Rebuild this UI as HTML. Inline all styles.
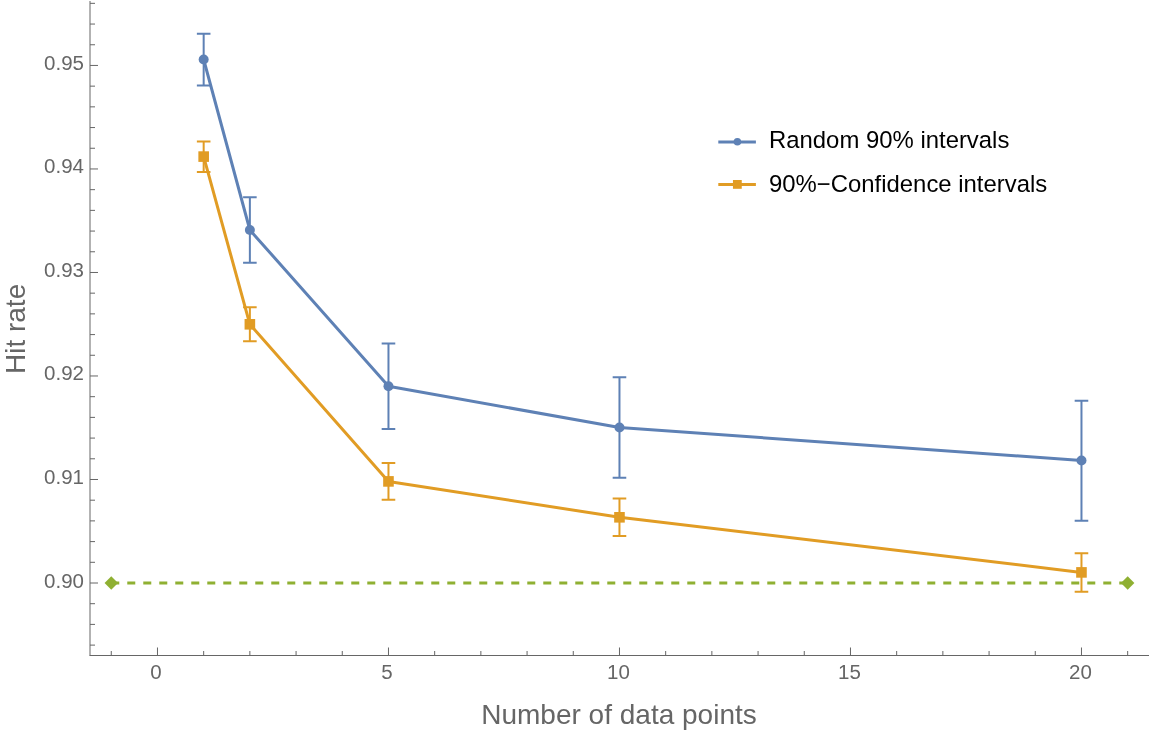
<!DOCTYPE html>
<html><head><meta charset="utf-8"><style>
html,body{margin:0;padding:0;background:#fff;width:1152px;height:738px;overflow:hidden}
svg{display:block;will-change:transform}
text{font-family:"Liberation Sans",sans-serif}
.tl{font-size:20.5px;fill:#666666}
.lg{font-size:23.9px;fill:#000}
.al{font-size:28px;fill:#666666}
</style></head><body>
<svg width="1152" height="738" viewBox="0 0 1152 738">
<line x1="90.0" y1="1" x2="90.0" y2="655.5" stroke="#666666" stroke-width="1"/>
<line x1="89.5" y1="655.5" x2="1149" y2="655.5" stroke="#666666" stroke-width="1"/>
<line x1="90.0" y1="645.11" x2="95.0" y2="645.11" stroke="#666666" stroke-width="1"/>
<line x1="90.0" y1="624.40" x2="95.0" y2="624.40" stroke="#666666" stroke-width="1"/>
<line x1="90.0" y1="603.70" x2="95.0" y2="603.70" stroke="#666666" stroke-width="1"/>
<line x1="90.0" y1="583.00" x2="98.0" y2="583.00" stroke="#666666" stroke-width="1"/>
<text x="84" y="587.50" text-anchor="end" class="tl">0.90</text>
<line x1="90.0" y1="562.30" x2="95.0" y2="562.30" stroke="#666666" stroke-width="1"/>
<line x1="90.0" y1="541.60" x2="95.0" y2="541.60" stroke="#666666" stroke-width="1"/>
<line x1="90.0" y1="520.89" x2="95.0" y2="520.89" stroke="#666666" stroke-width="1"/>
<line x1="90.0" y1="500.19" x2="95.0" y2="500.19" stroke="#666666" stroke-width="1"/>
<line x1="90.0" y1="479.49" x2="98.0" y2="479.49" stroke="#666666" stroke-width="1"/>
<text x="84" y="483.99" text-anchor="end" class="tl">0.91</text>
<line x1="90.0" y1="458.79" x2="95.0" y2="458.79" stroke="#666666" stroke-width="1"/>
<line x1="90.0" y1="438.09" x2="95.0" y2="438.09" stroke="#666666" stroke-width="1"/>
<line x1="90.0" y1="417.38" x2="95.0" y2="417.38" stroke="#666666" stroke-width="1"/>
<line x1="90.0" y1="396.68" x2="95.0" y2="396.68" stroke="#666666" stroke-width="1"/>
<line x1="90.0" y1="375.98" x2="98.0" y2="375.98" stroke="#666666" stroke-width="1"/>
<text x="84" y="380.48" text-anchor="end" class="tl">0.92</text>
<line x1="90.0" y1="355.28" x2="95.0" y2="355.28" stroke="#666666" stroke-width="1"/>
<line x1="90.0" y1="334.58" x2="95.0" y2="334.58" stroke="#666666" stroke-width="1"/>
<line x1="90.0" y1="313.87" x2="95.0" y2="313.87" stroke="#666666" stroke-width="1"/>
<line x1="90.0" y1="293.17" x2="95.0" y2="293.17" stroke="#666666" stroke-width="1"/>
<line x1="90.0" y1="272.47" x2="98.0" y2="272.47" stroke="#666666" stroke-width="1"/>
<text x="84" y="276.97" text-anchor="end" class="tl">0.93</text>
<line x1="90.0" y1="251.77" x2="95.0" y2="251.77" stroke="#666666" stroke-width="1"/>
<line x1="90.0" y1="231.07" x2="95.0" y2="231.07" stroke="#666666" stroke-width="1"/>
<line x1="90.0" y1="210.36" x2="95.0" y2="210.36" stroke="#666666" stroke-width="1"/>
<line x1="90.0" y1="189.66" x2="95.0" y2="189.66" stroke="#666666" stroke-width="1"/>
<line x1="90.0" y1="168.96" x2="98.0" y2="168.96" stroke="#666666" stroke-width="1"/>
<text x="84" y="173.46" text-anchor="end" class="tl">0.94</text>
<line x1="90.0" y1="148.26" x2="95.0" y2="148.26" stroke="#666666" stroke-width="1"/>
<line x1="90.0" y1="127.56" x2="95.0" y2="127.56" stroke="#666666" stroke-width="1"/>
<line x1="90.0" y1="106.85" x2="95.0" y2="106.85" stroke="#666666" stroke-width="1"/>
<line x1="90.0" y1="86.15" x2="95.0" y2="86.15" stroke="#666666" stroke-width="1"/>
<line x1="90.0" y1="65.45" x2="98.0" y2="65.45" stroke="#666666" stroke-width="1"/>
<text x="84" y="69.95" text-anchor="end" class="tl">0.95</text>
<line x1="90.0" y1="44.75" x2="95.0" y2="44.75" stroke="#666666" stroke-width="1"/>
<line x1="90.0" y1="24.05" x2="95.0" y2="24.05" stroke="#666666" stroke-width="1"/>
<line x1="90.0" y1="3.34" x2="95.0" y2="3.34" stroke="#666666" stroke-width="1"/>
<line x1="111.27" y1="655.5" x2="111.27" y2="651.0" stroke="#666666" stroke-width="1"/>
<line x1="157.47" y1="655.5" x2="157.47" y2="647.5" stroke="#666666" stroke-width="1"/>
<text x="155.97" y="678.8" text-anchor="middle" class="tl">0</text>
<line x1="203.67" y1="655.5" x2="203.67" y2="651.0" stroke="#666666" stroke-width="1"/>
<line x1="249.87" y1="655.5" x2="249.87" y2="651.0" stroke="#666666" stroke-width="1"/>
<line x1="296.07" y1="655.5" x2="296.07" y2="651.0" stroke="#666666" stroke-width="1"/>
<line x1="342.27" y1="655.5" x2="342.27" y2="651.0" stroke="#666666" stroke-width="1"/>
<line x1="388.47" y1="655.5" x2="388.47" y2="647.5" stroke="#666666" stroke-width="1"/>
<text x="386.97" y="678.8" text-anchor="middle" class="tl">5</text>
<line x1="434.67" y1="655.5" x2="434.67" y2="651.0" stroke="#666666" stroke-width="1"/>
<line x1="480.87" y1="655.5" x2="480.87" y2="651.0" stroke="#666666" stroke-width="1"/>
<line x1="527.07" y1="655.5" x2="527.07" y2="651.0" stroke="#666666" stroke-width="1"/>
<line x1="573.27" y1="655.5" x2="573.27" y2="651.0" stroke="#666666" stroke-width="1"/>
<line x1="619.47" y1="655.5" x2="619.47" y2="647.5" stroke="#666666" stroke-width="1"/>
<text x="618.47" y="678.8" text-anchor="middle" class="tl">10</text>
<line x1="665.67" y1="655.5" x2="665.67" y2="651.0" stroke="#666666" stroke-width="1"/>
<line x1="711.87" y1="655.5" x2="711.87" y2="651.0" stroke="#666666" stroke-width="1"/>
<line x1="758.07" y1="655.5" x2="758.07" y2="651.0" stroke="#666666" stroke-width="1"/>
<line x1="804.27" y1="655.5" x2="804.27" y2="651.0" stroke="#666666" stroke-width="1"/>
<line x1="850.47" y1="655.5" x2="850.47" y2="647.5" stroke="#666666" stroke-width="1"/>
<text x="849.47" y="678.8" text-anchor="middle" class="tl">15</text>
<line x1="896.67" y1="655.5" x2="896.67" y2="651.0" stroke="#666666" stroke-width="1"/>
<line x1="942.87" y1="655.5" x2="942.87" y2="651.0" stroke="#666666" stroke-width="1"/>
<line x1="989.07" y1="655.5" x2="989.07" y2="651.0" stroke="#666666" stroke-width="1"/>
<line x1="1035.27" y1="655.5" x2="1035.27" y2="651.0" stroke="#666666" stroke-width="1"/>
<line x1="1081.47" y1="655.5" x2="1081.47" y2="647.5" stroke="#666666" stroke-width="1"/>
<text x="1080.47" y="678.8" text-anchor="middle" class="tl">20</text>
<line x1="1127.67" y1="655.5" x2="1127.67" y2="651.0" stroke="#666666" stroke-width="1"/>
<line x1="111.27" y1="583.0" x2="1127.67" y2="583.0" stroke="#8fb032" stroke-width="2.8" stroke-dasharray="8 8"/>
<path d="M104.57 583.0 L111.27 576.3 L117.97 583.0 L111.27 589.7 Z" fill="#8fb032"/>
<path d="M1120.97 583.0 L1127.67 576.3 L1134.37 583.0 L1127.67 589.7 Z" fill="#8fb032"/>
<polyline points="203.67,59.50 249.87,230.00 388.47,386.30 619.47,427.50 1081.47,460.50" fill="none" stroke="#5e81b5" stroke-width="3" stroke-linejoin="round"/>
<path d="M203.67 33.80 V85.40 M196.87 33.80 H210.47 M196.87 85.40 H210.47" stroke="#5e81b5" stroke-width="2" fill="none"/>
<circle cx="203.67" cy="59.50" r="5" fill="#5e81b5"/>
<path d="M249.87 197.20 V262.80 M243.07 197.20 H256.67 M243.07 262.80 H256.67" stroke="#5e81b5" stroke-width="2" fill="none"/>
<circle cx="249.87" cy="230.00" r="5" fill="#5e81b5"/>
<path d="M388.47 343.40 V429.10 M381.67 343.40 H395.27 M381.67 429.10 H395.27" stroke="#5e81b5" stroke-width="2" fill="none"/>
<circle cx="388.47" cy="386.30" r="5" fill="#5e81b5"/>
<path d="M619.47 377.20 V477.70 M612.67 377.20 H626.27 M612.67 477.70 H626.27" stroke="#5e81b5" stroke-width="2" fill="none"/>
<circle cx="619.47" cy="427.50" r="5" fill="#5e81b5"/>
<path d="M1081.47 400.80 V520.70 M1074.67 400.80 H1088.27 M1074.67 520.70 H1088.27" stroke="#5e81b5" stroke-width="2" fill="none"/>
<circle cx="1081.47" cy="460.50" r="5" fill="#5e81b5"/>
<polyline points="203.67,156.60 249.87,324.30 388.47,481.40 619.47,517.30 1081.47,572.40" fill="none" stroke="#e19c24" stroke-width="3" stroke-linejoin="round"/>
<path d="M203.67 141.40 V171.90 M196.87 141.40 H210.47 M196.87 171.90 H210.47" stroke="#e19c24" stroke-width="2" fill="none"/>
<rect x="198.37" y="151.30" width="10.6" height="10.6" fill="#e19c24"/>
<path d="M249.87 307.20 V341.20 M243.07 307.20 H256.67 M243.07 341.20 H256.67" stroke="#e19c24" stroke-width="2" fill="none"/>
<rect x="244.57" y="319.00" width="10.6" height="10.6" fill="#e19c24"/>
<path d="M388.47 463.00 V499.80 M381.67 463.00 H395.27 M381.67 499.80 H395.27" stroke="#e19c24" stroke-width="2" fill="none"/>
<rect x="383.17" y="476.10" width="10.6" height="10.6" fill="#e19c24"/>
<path d="M619.47 498.40 V535.90 M612.67 498.40 H626.27 M612.67 535.90 H626.27" stroke="#e19c24" stroke-width="2" fill="none"/>
<rect x="614.17" y="512.00" width="10.6" height="10.6" fill="#e19c24"/>
<path d="M1081.47 553.20 V591.80 M1074.67 553.20 H1088.27 M1074.67 591.80 H1088.27" stroke="#e19c24" stroke-width="2" fill="none"/>
<rect x="1076.17" y="567.10" width="10.6" height="10.6" fill="#e19c24"/>
<line x1="718.3" y1="141.9" x2="755.9" y2="141.9" stroke="#5e81b5" stroke-width="3"/>
<circle cx="737.4" cy="141.8" r="3.8" fill="#5e81b5"/>
<line x1="718.3" y1="184.4" x2="755.9" y2="184.4" stroke="#e19c24" stroke-width="3"/>
<rect x="732.95" y="180.0" width="8.8" height="8.8" fill="#e19c24"/>
<text x="769" y="147.6" class="lg">Random 90% intervals</text>
<text x="769" y="191.6" class="lg">90%−Confidence intervals</text>
<text x="619" y="724" text-anchor="middle" class="al">Number of data points</text>
<text transform="translate(24.9 328.9) rotate(-90)" text-anchor="middle" class="al">Hit rate</text>
</svg>
</body></html>
